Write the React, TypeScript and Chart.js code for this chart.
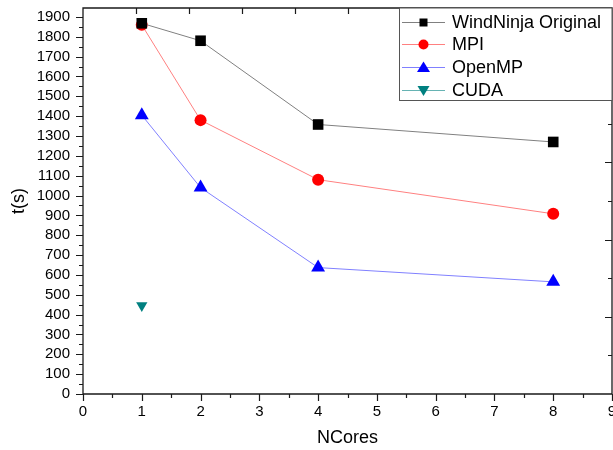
import React, { useEffect, useRef } from 'react';
import { Chart, registerables } from 'chart.js';

Chart.register(...registerables);

const nCores = [1, 2, 4, 8];
const windNinjaOriginal = [1868, 1780, 1358, 1270];
const mpiTimes = [1860, 1380, 1080, 908];
const openMPTimes = [1405, 1040, 637, 565];
const cudaCores = [1];
const cudaTimes = [446];
const seriesNames = ['WindNinja Original', 'MPI', 'OpenMP', 'CUDA'];
const xTickValues = [0, 1, 2, 3, 4, 5, 6, 7, 8, 9];
const xTitle = 'NCores';
const yTitle = 't(s)';
const xMin = 0;
const xMax = 9;
const yMin = 0;
const yMax = 1945;

const FONT = '"Liberation Sans", Arial, sans-serif';

const lineColors = ['#808080', '#ff8080', '#8080ff', '#66b3b3'];
const markerColors = ['#000000', '#ff0000', '#0000ff', '#008080'];
const markerKinds = ['square', 'circle', 'triangle', 'invtriangle'];

function drawMarker(ctx: CanvasRenderingContext2D, kind: string, x: number, y: number, color: string) {
  ctx.save();
  ctx.fillStyle = color;
  ctx.beginPath();
  if (kind === 'square') {
    ctx.rect(x - 4, y - 4, 8, 8);
  } else if (kind === 'circle') {
    ctx.arc(x, y, 5, 0, Math.PI * 2);
  } else if (kind === 'triangle') {
    ctx.moveTo(x, y - 6);
    ctx.lineTo(x + 6.5, y + 4.5);
    ctx.lineTo(x - 6.5, y + 4.5);
    ctx.closePath();
  } else {
    ctx.moveTo(x, y + 5.5);
    ctx.lineTo(x + 6, y - 4.5);
    ctx.lineTo(x - 6, y - 4.5);
    ctx.closePath();
  }
  ctx.fill();
  ctx.restore();
}

const frameTicksPlugin = {
  id: 'frameTicks',
  beforeDatasetsDraw(chart: any) {
    const ctx: CanvasRenderingContext2D = chart.ctx;
    const ca = chart.chartArea;
    const xs = chart.scales.x;
    const ys = chart.scales.y;
    ctx.save();
    ctx.strokeStyle = '#1a1a1a';
    ctx.lineWidth = 1.3;
    ctx.beginPath();
    ctx.rect(ca.left, ca.top, ca.right - ca.left, ca.bottom - ca.top);
    ctx.stroke();
    ctx.lineWidth = 1.2;
    ctx.beginPath();
    // left axis ticks
    for (let v = yMin; v <= yMax; v += 50) {
      const py = Math.round(ys.getPixelForValue(v)) + 0.5;
      const len = v % 100 === 0 ? 7 : 4;
      ctx.moveTo(ca.left - len, py);
      ctx.lineTo(ca.left, py);
    }
    // bottom axis ticks
    for (let v = xMin; v <= xMax + 0.001; v += 0.5) {
      const px = Math.round(xs.getPixelForValue(v)) + 0.5;
      const len = Number.isInteger(v) ? 7 : 4;
      ctx.moveTo(px, ca.bottom);
      ctx.lineTo(px, ca.bottom + len);
    }
    // top axis ticks (10 divisions)
    const w = ca.right - ca.left;
    const h = ca.bottom - ca.top;
    for (let k = 1; k < 10; k++) {
      const px = Math.round(ca.left + (w * k) / 10) + 0.5;
      ctx.moveTo(px, ca.top);
      ctx.lineTo(px, ca.top + 6);
    }
    // right axis ticks (10 divisions)
    for (let k = 1; k < 10; k++) {
      const py = Math.round(ca.top + (h * k) / 10) + 0.5;
      const len = k % 2 === 0 ? 7 : 4;
      ctx.moveTo(ca.right, py);
      ctx.lineTo(ca.right - len, py);
    }
    ctx.stroke();
    // bottom tick labels
    ctx.fillStyle = '#000000';
    ctx.font = `15px ${FONT}`;
    ctx.textAlign = 'center';
    ctx.textBaseline = 'middle';
    xTickValues.forEach((v) => {
      ctx.fillText(String(v), xs.getPixelForValue(v), ca.bottom + 18);
    });
    ctx.restore();
  },
};

const legendPlugin = {
  id: 'boxLegend',
  afterDraw(chart: any) {
    const ctx: CanvasRenderingContext2D = chart.ctx;
    const ca = chart.chartArea;
    const boxLeft = 399.5;
    const boxTop = ca.top;
    const boxRight = ca.right;
    const boxBottom = 100.5;
    ctx.save();
    ctx.fillStyle = '#ffffff';
    ctx.fillRect(boxLeft, boxTop, boxRight - boxLeft, boxBottom - boxTop);
    ctx.strokeStyle = '#555555';
    ctx.lineWidth = 1;
    ctx.strokeRect(boxLeft, boxTop, boxRight - boxLeft, boxBottom - boxTop);
    const rows = [22, 44, 67, 90];
    ctx.font = `18px ${FONT}`;
    ctx.textBaseline = 'middle';
    ctx.textAlign = 'left';
    seriesNames.forEach((name, i) => {
      const y = rows[i];
      ctx.strokeStyle = lineColors[i];
      ctx.lineWidth = 1;
      ctx.beginPath();
      ctx.moveTo(402, y + 0.5);
      ctx.lineTo(445, y + 0.5);
      ctx.stroke();
      drawMarker(ctx, markerKinds[i], 423.5, y + 0.5, markerColors[i]);
      ctx.fillStyle = '#000000';
      ctx.fillText(name, 452, y + 1);
    });
    ctx.restore();
  },
};

function toPoints(xs: number[], ys: number[]) {
  return xs.map((x, i) => ({ x, y: ys[i] }));
}

export default function App() {
  const canvasRef = useRef<HTMLCanvasElement | null>(null);

  useEffect(() => {
    if (!canvasRef.current) return;
    const chart = new Chart(canvasRef.current, {
      type: 'line',
      data: {
        datasets: [
          {
            label: seriesNames[0],
            data: toPoints(nCores, windNinjaOriginal),
            borderColor: lineColors[0],
            borderWidth: 1,
            backgroundColor: markerColors[0],
            pointBackgroundColor: markerColors[0],
            pointBorderColor: markerColors[0],
            pointBorderWidth: 0,
            pointStyle: 'rect',
            pointRadius: 7.5,
          },
          {
            label: seriesNames[1],
            data: toPoints(nCores, mpiTimes),
            borderColor: lineColors[1],
            borderWidth: 1,
            backgroundColor: markerColors[1],
            pointBackgroundColor: markerColors[1],
            pointBorderColor: markerColors[1],
            pointBorderWidth: 0,
            pointStyle: 'circle',
            pointRadius: 6,
          },
          {
            label: seriesNames[2],
            data: toPoints(nCores, openMPTimes),
            borderColor: lineColors[2],
            borderWidth: 1,
            backgroundColor: markerColors[2],
            pointBackgroundColor: markerColors[2],
            pointBorderColor: markerColors[2],
            pointBorderWidth: 0,
            pointStyle: 'triangle',
            pointRadius: 8,
          },
          {
            label: seriesNames[3],
            data: toPoints(cudaCores, cudaTimes),
            borderColor: lineColors[3],
            borderWidth: 1,
            backgroundColor: markerColors[3],
            pointBackgroundColor: markerColors[3],
            pointBorderColor: markerColors[3],
            pointBorderWidth: 0,
            pointStyle: 'triangle',
            pointRotation: 180,
            pointRadius: 6.5,
          },
        ],
      },
      options: {
        responsive: false,
        animation: false,
        layout: { autoPadding: false, padding: { top: 8, right: 1, left: 0, bottom: 0 } },
        plugins: {
          legend: { display: false },
          tooltip: { enabled: false },
          title: { display: false },
        },
        scales: {
          x: {
            type: 'linear',
            min: xMin,
            max: xMax,
            grid: { display: false, drawTicks: false },
            border: { display: false },
            ticks: {
              display: false,
              stepSize: 1,
            },
            title: {
              display: true,
              text: xTitle,
              color: '#000000',
              font: { family: FONT, size: 18 },
              padding: { top: 0, bottom: 1 },
            },
            afterFit(scale: any) {
              scale.height = 56;
              scale.paddingLeft = 0;
              scale.paddingRight = 0;
            },
          },
          y: {
            type: 'linear',
            min: yMin,
            max: yMax,
            grid: { display: false, drawTicks: false },
            border: { display: false },
            ticks: {
              stepSize: 100,
              autoSkip: false,
              includeBounds: false,
              padding: 13,
              color: '#000000',
              font: { family: FONT, size: 15 },
              callback: (v: any) => (Number(v) % 100 === 0 ? String(v) : ''),
            },
            title: {
              display: true,
              text: yTitle,
              color: '#000000',
              font: { family: FONT, size: 18 },
              padding: { top: 8, bottom: 0 },
            },
            afterFit(scale: any) {
              scale.width = 83;
              scale.paddingTop = 0;
              scale.paddingBottom = 0;
            },
          },
        },
      },
      plugins: [frameTicksPlugin, legendPlugin],
    } as any);
    return () => chart.destroy();
  }, []);

  return (
    <div style={{ position: 'absolute', left: 0, top: 0, width: 613, height: 450, background: '#ffffff' }}>
      <canvas ref={canvasRef} width={613} height={450} />
    </div>
  );
}
